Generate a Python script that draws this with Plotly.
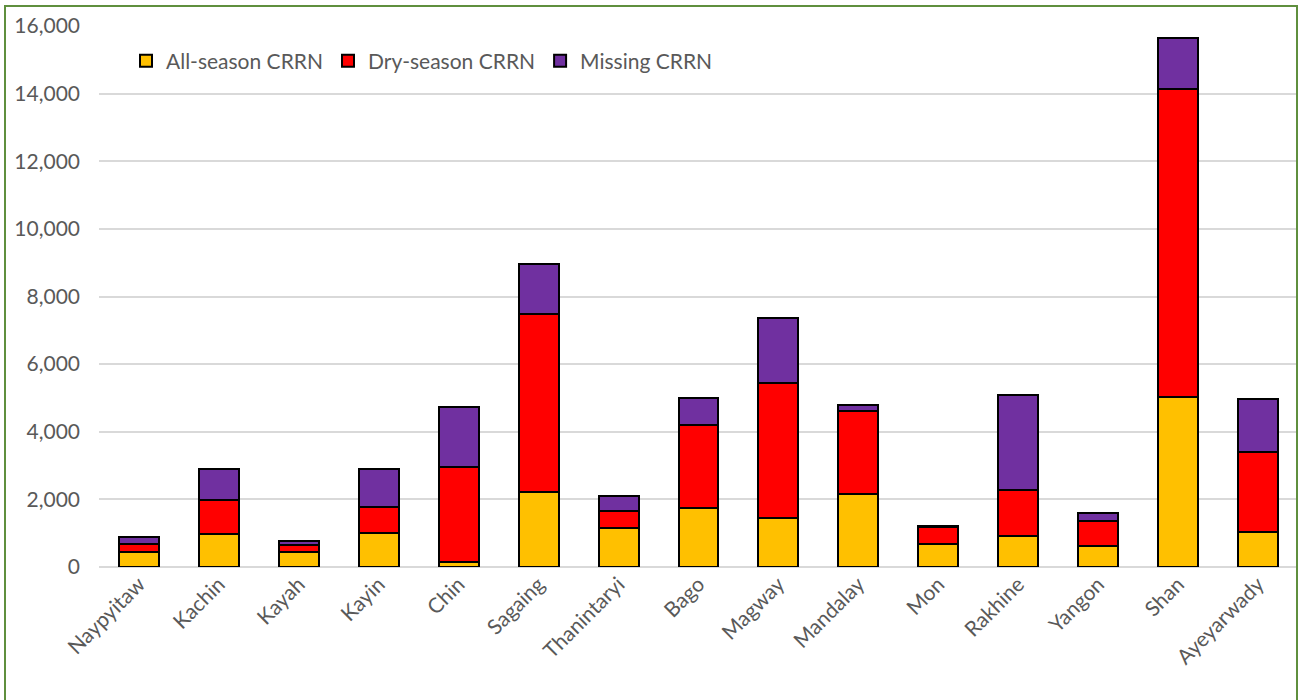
import plotly.graph_objects as go

regions = ["Naypyitaw", "Kachin", "Kayah", "Kayin", "Chin", "Sagaing", "Thanintaryi",
           "Bago", "Magway", "Mandalay", "Mon", "Rakhine", "Yangon", "Shan", "Ayeyarwady"]
all_season = [450, 990, 440, 1020, 150, 2220, 1150, 1750, 1460, 2150, 680, 930, 620, 5040, 1040]
dry_season = [230, 1000, 210, 760, 2800, 5270, 500, 2450, 3990, 2470, 500, 1340, 730, 9090, 2370]
missing = [210, 910, 120, 1120, 1770, 1480, 440, 800, 1910, 180, 40, 2830, 260, 1520, 1560]

series = [
    ("All-season CRRN", all_season, "#FFC000"),
    ("Dry-season CRRN", dry_season, "#FF0000"),
    ("Missing CRRN", missing, "#7030A0"),
]

font_family = "Lato, 'Open Sans', sans-serif"
text_color = "#595959"

fig = go.Figure()
for name, values, color in series:
    fig.add_trace(go.Bar(
        x=regions, y=values, name=name,
        marker=dict(color=color, line=dict(color="#000000", width=2)),
    ))

W, H = 1301, 700
ml, mr, mt, mb = 99, 3, 26, 133
pw, ph = W - ml - mr, H - mt - mb

def px_x(p):
    return (p - ml) / pw

def px_y(p):
    return (H - mb - p) / ph

fig.update_layout(
    width=W, height=H,
    barmode="stack", bargap=0.5,
    margin=dict(l=ml, r=mr, t=mt, b=mb),
    paper_bgcolor="white", plot_bgcolor="white",
    font=dict(family=font_family, color=text_color, size=21),
    showlegend=True,
    legend=dict(
        orientation="h", traceorder="normal",
        x=px_x(126), y=px_y(61), xanchor="left", yanchor="middle",
        font=dict(size=21, color=text_color), bgcolor="rgba(0,0,0,0)",
        itemwidth=30, tracegroupgap=0,
    ),
    xaxis=dict(
        tickangle=-45, tickfont=dict(size=21, color=text_color),
        showgrid=False, showline=False, ticks="",
    ),
    yaxis=dict(
        range=[0, 16000], tickvals=list(range(0, 16001, 2000)),
        tickformat=",d", tickfont=dict(size=21, color=text_color),
        showgrid=True, gridcolor="#D9D9D9", gridwidth=1.5,
        zeroline=True, zerolinecolor="#D9D9D9", zerolinewidth=1.5,
        ticks="", ticklabelstandoff=18,
    ),
    shapes=[dict(
        type="rect", xref="paper", yref="paper",
        x0=px_x(5), x1=px_x(1297), y0=px_y(710), y1=px_y(6),
        line=dict(color="#5F8F3E", width=2), fillcolor="rgba(0,0,0,0)", layer="above",
    )],
)

fig.write_html("out.html")
